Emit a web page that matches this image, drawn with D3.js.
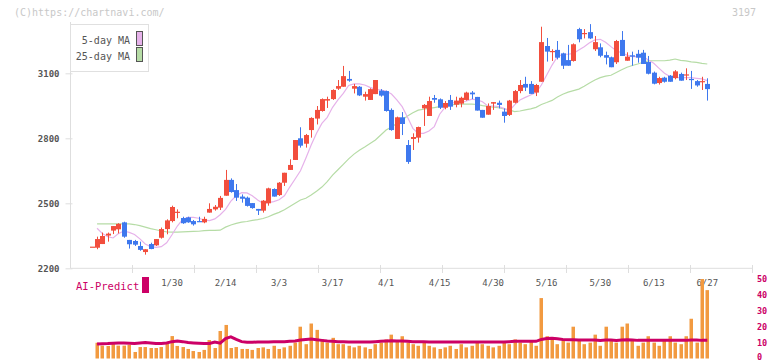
<!DOCTYPE html>
<html>
<head>
<meta charset="utf-8">
<script src="https://cdn.jsdelivr.net/npm/d3@7"></script>
<style>
  body { margin: 0; background: #fff; }
  svg text { font-family: "DejaVu Sans Mono", monospace; }
</style>
</head>
<body>
<div id="chart"></div>
<script>
const width = 772
const height = 361

// trading days shown on the chart (2025)
const dates = [
  "1/8","1/9","1/10","1/14","1/15","1/16","1/17","1/20","1/21","1/22","1/23","1/24","1/27","1/28","1/29","1/30","1/31",
  "2/3","2/4","2/5","2/6","2/7","2/10","2/12","2/13","2/14","2/17","2/18","2/19","2/20","2/21","2/25","2/26","2/27","2/28",
  "3/3","3/4","3/5","3/6","3/7","3/10","3/11","3/12","3/13","3/14","3/17","3/18","3/19","3/21","3/24","3/25","3/26","3/27","3/28","3/31",
  "4/1","4/2","4/3","4/4","4/7","4/8","4/9","4/10","4/11","4/14","4/15","4/16","4/17","4/18","4/21","4/22","4/23","4/24","4/25","4/28","4/30",
  "5/1","5/2","5/7","5/8","5/9","5/12","5/13","5/14","5/15","5/16","5/19","5/20","5/21","5/22","5/23","5/26","5/27","5/28","5/29","5/30",
  "6/2","6/3","6/4","6/5","6/6","6/9","6/10","6/11","6/12","6/13","6/16","6/17","6/18","6/19","6/20","6/23","6/24","6/25","6/26","6/27"
]

const tickDates = ["1/30","2/14","3/3","3/17","4/1","4/15","4/30","5/16","5/30","6/13","6/27"]
const priceTicks = [2200, 2500, 2800, 3100]
const predictTicks = [0, 10, 20, 30, 40, 50]

const opens = [
  2300,2295,2312,2351,2374,2380,2412,2331,2326,2303,2275,2312,2306,2341,2381,2418,2460,2432,2435,2418,
  2418,2412,2457,2472,2480,2535,2608,2561,2531,2526,2501,2474,2466,2500,2566,2538,2595,2654,2700,2800,
  2775,2838,2891,2926,2974,2981,3029,3038,3074,3029,3038,2992,2977,3004,3020,3018,2931,2797,2897,2769,
  2797,2803,2938,2903,2986,2980,2941,2977,2955,2960,2977,3011,2991,2931,2909,2960,2964,2923,2908,2964,
  3018,3051,3051,3011,3061,3226,3200,3208,3192,3161,3157,3304,3281,3290,3211,3220,3184,3174,3151,3254,
  3158,3183,3190,3195,3152,3103,3055,3080,3089,3078,3097,3092,3074,3064,3060,3051
]
const highs = [
  2300,2346,2365,2365,2395,2408,2415,2331,2331,2323,2288,2318,2335,2388,2426,2489,2472,2438,2438,2423,
  2438,2438,2500,2492,2534,2654,2615,2589,2541,2531,2501,2474,2515,2572,2569,2598,2641,2703,2792,2851,
  2820,2897,2949,2984,2992,3026,3069,3134,3111,3051,3041,3015,3031,3069,3027,3020,2938,2900,2921,2792,
  2823,2854,2958,2992,3000,2984,2972,3000,2992,2992,3015,3018,2991,2931,2961,2967,2974,2938,2977,3023,
  3069,3084,3064,3051,3315,3263,3211,3249,3195,3231,3238,3310,3304,3327,3272,3238,3200,3177,3254,3295,
  3197,3200,3208,3208,3180,3108,3084,3084,3092,3115,3103,3123,3111,3069,3084,3077
]
const lows = [
  2300,2288,2312,2323,2358,2361,2341,2291,2303,2281,2263,2288,2303,2337,2357,2412,2431,2405,2410,2397,
  2415,2408,2457,2466,2469,2535,2549,2511,2503,2485,2475,2446,2457,2489,2531,2534,2580,2654,2700,2757,
  2757,2803,2864,2923,2940,2977,3023,3038,3061,3007,2995,2974,2977,3004,2992,2923,2835,2797,2815,2682,
  2746,2780,2857,2903,2964,2935,2934,2931,2943,2943,2974,2981,2928,2895,2909,2931,2938,2872,2903,2961,
  3008,3018,3005,2995,3061,3154,3157,3164,3120,3135,3154,3243,3261,3258,3203,3174,3141,3128,3143,3180,
  3158,3135,3149,3143,3095,3049,3048,3057,3061,3072,3066,3069,3028,3038,3023,2974
]
const closes = [
  2300,2335,2349,2360,2395,2405,2346,2311,2309,2285,2288,2289,2335,2381,2421,2483,2461,2408,2412,2403,
  2415,2428,2474,2484,2525,2608,2552,2526,2521,2488,2478,2466,2512,2569,2531,2595,2641,2677,2792,2766,
  2815,2894,2931,2981,2981,3023,3041,3087,3066,3041,2998,3004,3027,3069,2997,2926,2838,2897,2866,2691,
  2806,2852,2954,2972,2978,2941,2963,2946,2974,2987,3011,3003,2928,2895,2949,2967,2954,2903,2974,3018,
  3046,3034,3005,3046,3244,3200,3203,3172,3135,3135,3234,3257,3286,3261,3244,3181,3172,3128,3249,3180,
  3177,3177,3172,3143,3098,3052,3078,3061,3061,3109,3066,3095,3071,3044,3064,3027
]

// moving averages as plotted (first day has none)
const ma5 = [
  null,2385,2360,2346,2340,2360,2372,2366,2356,2336,2312,2300,2297,2300,2318,2355,2395,2426,2435,2435,
  2431,2423,2420,2428,2447,2472,2510,2535,2549,2548,2535,2515,2500,2503,2508,2516,2535,2575,2612,2650,
  2708,2769,2823,2869,2897,2943,2977,3007,3044,3051,3051,3046,3035,3026,3023,3018,3004,2977,2946,2897,
  2846,2823,2823,2834,2854,2911,2943,2964,2964,2964,2972,2981,2977,2969,2949,2949,2946,2938,2926,2954,
  2977,2989,3000,3011,3046,3092,3138,3177,3188,3188,3192,3208,3223,3241,3254,3257,3243,3223,3204,3195,
  3184,3177,3177,3177,3161,3146,3123,3100,3085,3080,3080,3080,3080,3077,3074,3066
]
const ma25 = [
  null,2405,2405,2405,2405,2405,2405,2405,2402,2397,2390,2383,2378,2372,2368,2367,2367,2368,2369,2370,
  2371,2374,2375,2375,2376,2390,2400,2407,2413,2416,2421,2425,2430,2438,2449,2458,2470,2485,2500,2515,
  2523,2538,2556,2575,2600,2630,2655,2680,2705,2727,2745,2760,2776,2792,2815,2838,2852,2868,2884,2903,
  2918,2930,2934,2938,2942,2946,2950,2954,2957,2958,2958,2958,2956,2951,2947,2944,2941,2936,2931,2923,
  2926,2931,2936,2943,2956,2965,2975,2991,3003,3013,3020,3027,3040,3055,3069,3080,3087,3091,3104,3116,
  3128,3136,3143,3151,3157,3158,3158,3158,3161,3166,3160,3157,3153,3150,3146,3143
]

// AI-Predict panel
const predictBars = [
  null,9.9,8.1,7.9,9.1,8.1,8.1,8.5,4.1,7.2,7.2,6.6,6.6,7.2,9.1,14.1,7.9,7.2,6.0,4.7,
  4.1,5.4,11.6,6.6,17.3,21.1,6.6,7.2,6.0,6.0,5.4,6.6,7,6,8,6,7,8,10,20,
  9,22,18,12,10,13,9,9,8,7,8,7,6,9,10,12,15,11,14,10,
  9,8,10,8,7,6,7,8,6,9,7,8,10,9,8,7,8,10,9,12,
  10,9,11,8,38,14,12,9,11,10,20,12,9,10,15,8,20,12,10,20,
  22,12,8,10,14,10,8,12,14,10,9,14,25,10,50,43
]
const predictLine = [
  null,9.1,9.3,9.4,9.6,9.8,9.8,9.6,9.4,9.8,10,9.8,9.4,9.4,9.8,10.6,11,10.6,10,9.8,
  9.6,9.4,9.4,10.4,9.6,12.5,13.6,12,10.6,10.2,10.2,10.4,10.4,10.4,10.6,10.6,10.6,10.8,11,11.6,
  12,12.2,11.8,11.4,11,10.8,10.6,10.6,10.4,10.4,10.4,10.4,10.4,10.6,10.8,11,11.2,11,11,10.8,
  10.6,10.6,10.6,10.4,10.4,10.4,10.4,10.4,10.4,10.4,10.4,10.4,10.4,10.4,10.4,10.4,10.4,10.4,10.6,10.8,
  10.8,10.8,10.8,10.8,12,12.6,12.8,12.4,12,11.8,11.8,11.6,11.6,11.6,11.6,11.4,11.6,11.6,11.4,11.6,
  11.8,11.6,11.4,11.4,11.4,11.4,11.4,11.4,11.4,11.4,11.4,11.4,11.6,11.6,11.4,11.4
]

const upColor = "#f24e3d"
const downColor = "#3e78ee"
const ma5Color = "#e6b2ea"
const ma25Color = "#b6dca6"
const predictColor = "#cc0066"
const barColor = "#f29a40"
const axisColor = "#dedede"
const labelColor = "#555"

const svg = d3.select("#chart")
              .append("svg")
                .attr("width", width)
                .attr("height", height)

// --- Scales ---
const xScale = d3.scalePoint()
                  .domain(dates)
                  .range([91.7, 707.3])

const yScale = d3.scaleLinear()
                  .domain([2200, 3100])
                  .range([268.3, 73.3])

const yPredict = d3.scaleLinear()
                    .domain([0, 50])
                    .range([358.5, 279])

// --- Header texts ---
svg.append("text")
    .attr("x", 14).attr("y", 16)
    .attr("font-size", 10)
    .attr("fill", "#c8c8c8")
    .text("(C)https://chartnavi.com/")

svg.append("text")
    .attr("x", 756).attr("y", 16)
    .attr("text-anchor", "end")
    .attr("font-size", 10)
    .attr("fill", "#c8c8c8")
    .text("3197")

// --- Axes ---
const yAxis = svg.append("g")
    .attr("transform", "translate(70.5,0)")
    .call(d3.axisLeft(yScale).tickValues(priceTicks).tickFormat(d3.format("d"))
            .tickSize(5).tickSizeOuter(0).tickPadding(6))
yAxis.select(".domain").attr("d", "M0,22V268.3").attr("stroke", axisColor)
yAxis.selectAll(".tick line").attr("stroke", axisColor).attr("x2", -5).attr("x1", 2)
yAxis.selectAll(".tick text")
      .attr("fill", labelColor).attr("font-size", 9).attr("font-weight", "bold")
      .attr("font-family", "DejaVu Sans Mono")

// x axis line with evenly spaced marks
svg.append("line")
    .attr("x1", 70.5).attr("x2", 753)
    .attr("y1", 268.3).attr("y2", 268.3)
    .attr("stroke", axisColor)

svg.append("g")
    .selectAll("line")
    .data(d3.range(1, 12))
    .join("line")
      .attr("x1", d => 70.5 + d * 62).attr("x2", d => 70.5 + d * 62)
      .attr("y1", 265).attr("y2", 273)
      .attr("stroke", axisColor)

svg.append("g")
    .selectAll("text")
    .data(tickDates)
    .join("text")
      .attr("x", d => xScale(d))
      .attr("y", 285.5)
      .attr("text-anchor", "middle")
      .attr("font-size", 9)
      .attr("fill", labelColor)
      .text(d => d)

// --- Moving averages ---
const maLine = (values) => d3.line()
    .defined(d => values[dates.indexOf(d)] !== null)
    .x(d => xScale(d))
    .y(d => yScale(values[dates.indexOf(d)]))

svg.append("path")
    .attr("d", maLine(ma25)(dates))
    .attr("fill", "none")
    .attr("stroke", ma25Color)
    .attr("stroke-width", 1.2)

svg.append("path")
    .attr("d", maLine(ma5)(dates))
    .attr("fill", "none")
    .attr("stroke", ma5Color)
    .attr("stroke-width", 1.2)

// --- Candles ---
const candles = svg.append("g")
    .selectAll("g")
    .data(dates)
    .join("g")

candles.append("line")
    .attr("x1", d => Math.round(xScale(d)) + 0.5)
    .attr("x2", d => Math.round(xScale(d)) + 0.5)
    .attr("y1", (d, i) => yScale(highs[i]))
    .attr("y2", (d, i) => yScale(lows[i]))
    .attr("stroke", (d, i) => closes[i] >= opens[i] ? upColor : downColor)
    .attr("stroke-width", 1)

candles.append("rect")
    .attr("x", d => Math.round(xScale(d)) - 2)
    .attr("width", 5)
    .attr("y", (d, i) => yScale(Math.max(opens[i], closes[i])))
    .attr("height", (d, i) => Math.max(1.2, Math.abs(yScale(opens[i]) - yScale(closes[i]))))
    .attr("fill", (d, i) => closes[i] >= opens[i] ? upColor : downColor)

// --- Legend ---
const legend = svg.append("g")
legend.append("rect")
    .attr("x", 70.5).attr("y", 24.5)
    .attr("width", 78).attr("height", 47)
    .attr("fill", "#fff").attr("stroke", "#e0e0e0")

const legendItems = [["5-day MA", ma5Color], ["25-day MA", ma25Color]]
legendItems.forEach((item, i) => {
  legend.append("text")
      .attr("x", 130).attr("y", 44 + i * 16)
      .attr("text-anchor", "end")
      .attr("font-size", 10)
      .attr("fill", labelColor)
      .text(item[0])
  legend.append("rect")
      .attr("x", 136.5).attr("y", 31.5 + i * 16)
      .attr("width", 6).attr("height", 14)
      .attr("fill", item[1]).attr("stroke", "#555")
})

// --- AI-Predict panel ---
svg.append("text")
    .attr("x", 76).attr("y", 290)
    .attr("font-size", 10.5)
    .attr("fill", predictColor)
    .text("AI-Predict")

svg.append("rect")
    .attr("x", 142).attr("y", 277)
    .attr("width", 7).attr("height", 16)
    .attr("fill", predictColor)

svg.append("g")
    .selectAll("text")
    .data(predictTicks)
    .join("text")
      .attr("x", 757)
      .attr("y", d => Math.min(yPredict(d) + 3, 359.5))
      .attr("font-size", 8.5)
      .attr("font-weight", "bold")
      .attr("fill", predictColor)
      .text(d => d)

svg.append("g")
    .selectAll("rect")
    .data(dates.filter((d, i) => predictBars[i] !== null))
    .join("rect")
      .attr("x", d => Math.round(xScale(d)) - 1.5)
      .attr("width", 3.5)
      .attr("y", d => yPredict(predictBars[dates.indexOf(d)]))
      .attr("height", d => yPredict(0) - yPredict(predictBars[dates.indexOf(d)]))
      .attr("fill", barColor)

svg.append("path")
    .attr("d", d3.line()
                  .defined(d => predictLine[dates.indexOf(d)] !== null)
                  .x(d => xScale(d))
                  .y(d => yPredict(predictLine[dates.indexOf(d)]))(dates))
    .attr("fill", "none")
    .attr("stroke", predictColor)
    .attr("stroke-width", 3)
</script>
</body>
</html>
